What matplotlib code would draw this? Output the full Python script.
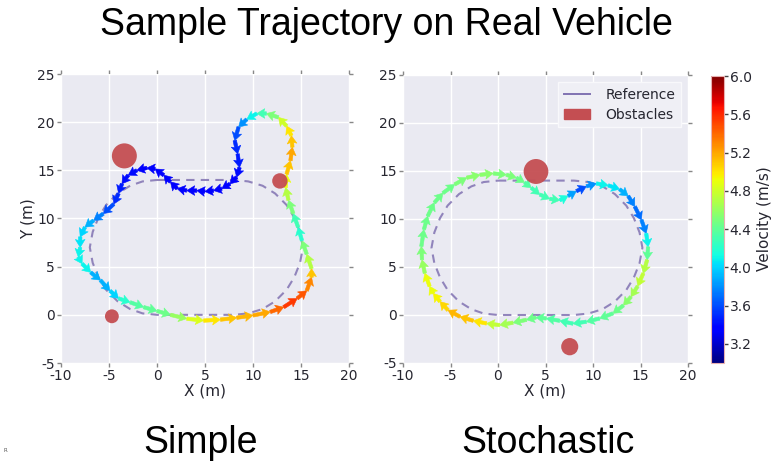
import numpy as np
import matplotlib
matplotlib.use("Agg")
import matplotlib.pyplot as plt
from matplotlib.patches import Circle, Patch
from matplotlib.lines import Line2D
from matplotlib.colors import Normalize

plt.rcParams['font.family'] = ['DejaVu Sans']
plt.rcParams['axes.unicode_minus'] = False

# ---------------- data ----------------
ref_x = [0, 2, 4, 6, 8, 9.5, 11, 12.3, 13.5, 14.3, 14.9, 15.2, 14.9, 14.3, 13.5, 12.3, 11, 9.5,
         8, 6, 4, 2, 0, -1.5, -2.8, -4.1, -5.3, -6.1, -6.7, -7, -6.7, -6.1, -5.3, -4.1, -2.8, -1.5, 0]
ref_y = [14, 14, 14, 14, 14, 13.85, 13.4, 12.6, 11.4, 10.1, 8.6, 7, 5.4, 3.9, 2.6, 1.4, 0.6, 0.15,
         0, 0, 0, 0, 0, 0.15, 0.6, 1.4, 2.6, 3.9, 5.4, 7, 8.6, 10.1, 11.4, 12.6, 13.4, 13.85, 14]

# Simple (counter-clockwise)
simple_x = [-8.0, -8.2, -7.8, -6.9, -5.9, -4.9, -4.0, -2.8, -1.4, 0.0, 1.4, 3.1, 4.85, 6.6, 8.3,
            10.0, 11.8, 13.2, 14.6, 15.6, 16.1, 16.1, 15.6, 15.1, 14.7, 14.2, 13.7, 13.4, 13.5,
            13.9, 14.1, 14.0, 13.5, 12.65, 11.4, 10.4, 9.35, 8.5, 8.1, 8.4, 8.6, 8.3, 7.6, 6.75,
            5.9, 5.0, 4.15, 3.1, 2.1, 1.4, 0.7, -0.2, -1.05, -2.1, -3.0, -3.65, -4.0, -4.5, -5.6,
            -6.6, -7.5, -8.0]
simple_y = [7.0, 6.0, 5.3, 4.4, 3.6, 2.5, 1.7, 1.3, 0.8, 0.4, 0.0, -0.4, -0.6, -0.5, -0.3,
            -0.06, 0.3, 0.8, 1.7, 2.5, 3.9, 4.8, 6.3, 7.7, 9.1, 10.5, 11.9, 13.2, 14.6,
            16.0, 17.4, 18.6, 19.6, 20.5, 20.9, 20.9, 20.3, 19.5, 18.1, 16.7, 15.3, 14.3, 13.6, 13.1,
            12.9, 12.8, 12.9, 12.9, 13.1, 13.8, 14.5, 15.15, 15.25, 15.0, 14.5, 13.6, 12.6, 11.5, 10.5,
            9.8, 9.1, 8.1]
simple_v = [4.1, 4.1, 4.1, 3.9, 3.9, 4.0, 4.2, 4.35, 4.4, 4.45, 4.6, 4.85, 5.0, 5.1, 5.15,
            5.2, 5.4, 5.55, 5.45, 5.3, 5.1, 4.7, 4.5, 4.2, 4.3, 4.5, 4.7, 4.9, 5.1,
            5.2, 5.1, 5.0, 4.8, 4.5, 4.3, 4.1, 3.8, 3.6, 3.5, 3.45, 3.4, 3.35, 3.35, 3.35,
            3.35, 3.35, 3.35, 3.35, 3.35, 3.35, 3.35, 3.35, 3.35, 3.4, 3.4, 3.45, 3.5, 3.6, 3.75,
            3.9, 4.0, 4.05]

# Stochastic (clockwise)
stoch_x = [-7.2, -7.7, -8.0, -8.07, -7.8, -7.4, -6.7, -5.8, -4.56, -3.3, -1.9, -0.5, 0.88, 1.93,
           2.8, 3.5, 4.4, 5.44, 6.5, 7.37, 8.25, 9.3, 10.35, 11.6, 12.8, 13.7, 14.4, 15.1, 15.6,
           15.8, 15.7, 15.3, 14.7, 14.0, 13.2, 12.1, 10.7, 9.3, 7.9, 6.5, 5.1, 4.0, 3.0, 1.58,
           0.18, -1.2, -2.6, -4.0, -5.26, -6.1, -6.8]
stoch_y = [3.0, 4.35, 5.75, 7.14, 8.9, 10.3, 11.7, 12.7, 13.6, 14.3, 14.6, 14.75, 14.6, 14.3,
           13.8, 13.25, 12.55, 12.1, 11.95, 12.4, 12.9, 13.4, 13.7, 13.5, 13.1, 12.4, 11.3, 9.9, 8.5,
           7.1, 5.75, 4.35, 3.0, 1.9, 1.0, 0.17, -0.36, -0.7, -0.9, -0.6, -0.36, -0.25, -0.5, -0.8,
           -1.05, -0.88, -0.6, -0.18, 0.5, 1.4, 2.25]
stoch_v = [4.9, 4.6, 4.5, 4.45, 4.45, 4.45, 4.45, 4.45, 4.5, 4.55, 4.55, 4.5, 4.5, 4.45,
           4.35, 4.3, 4.3, 4.3, 4.15, 3.85, 3.6, 3.8, 4.1, 4.05, 3.9, 3.75, 3.7, 3.75, 4.1,
           4.4, 4.7, 4.75, 4.65, 4.55, 4.45, 4.4, 4.35, 4.3, 4.3, 4.35, 4.4, 4.45, 4.5, 4.65,
           4.75, 5.0, 5.1, 5.15, 5.05, 4.95, 4.9]

# obstacles: (x, y, radius)
simple_obs_x = [-3.4, 12.8, -4.7]
simple_obs_y = [16.5, 13.9, -0.15]
simple_obs_r = [1.3, 0.8, 0.72]
stoch_obs_x = [4.0, 7.55]
stoch_obs_y = [14.95, -3.3]
stoch_obs_r = [1.3, 0.9]

xticks = [-10, -5, 0, 5, 10, 15, 20]
yticks = [-5, 0, 5, 10, 15, 20, 25]
cbar_ticks = [3.2, 3.6, 4.0, 4.4, 4.8, 5.2, 5.6, 6.0]
vmin, vmax = 3.0, 6.0

# ---------------- style ----------------
BG = '#EAEAF2'
TXT = '#262630'
REF_C = '#8172B2'
OBS_C = '#C44E52'
BIG_FONT = ['Liberation Sans', 'DejaVu Sans']

fig = plt.figure(figsize=(7.72, 4.61), dpi=100)
W, H = 772.0, 461.0

def rect(l, t, r, b):
    return [l / W, 1 - b / H, (r - l) / W, (b - t) / H]

ax1 = fig.add_axes(rect(61, 74, 349, 363))
ax2 = fig.add_axes(rect(403, 75, 688, 363))
cax = fig.add_axes(rect(711, 76, 724, 363))

norm = Normalize(vmin=vmin, vmax=vmax)
cmap = plt.get_cmap('jet')

def style(ax):
    ax.set_facecolor(BG)
    for s in ax.spines.values():
        s.set_visible(False)
    ax.set_xlim(-10, 20)
    ax.set_ylim(-5, 25)
    ax.set_xticks(xticks)
    ax.set_yticks(yticks)
    ax.grid(True, color='white', lw=1.0)
    ax.set_axisbelow(True)
    ax.tick_params(direction='out', length=3, width=1, color='#888888',
                   labelsize=10, labelcolor=TXT, top=True, right=True, pad=1.5)
    ax.set_xlabel('X (m)', fontsize=11, color=TXT, labelpad=0)

def draw(ax, px, py, pv, ox, oy, orad):
    ax.plot(ref_x, ref_y, ls=(0, (4, 3)), color=REF_C, lw=1.5, alpha=0.85, zorder=2)
    px = np.asarray(px); py = np.asarray(py)
    u = np.roll(px, -1) - px
    v = np.roll(py, -1) - py
    ax.quiver(px, py, u, v, np.asarray(pv), cmap=cmap, norm=norm, angles='xy',
              scale_units='xy', scale=1, units='xy', width=0.36, headwidth=2.8,
              headlength=2.3, headaxislength=2.0, pivot='tail', zorder=3,
              edgecolor='face', linewidth=0.4)
    for cx, cy, r in zip(ox, oy, orad):
        ax.add_patch(Circle((cx, cy), r, color=OBS_C, alpha=0.95, lw=0, zorder=4))

style(ax1)
style(ax2)
ax1.set_ylabel('Y (m)', fontsize=11, color=TXT, labelpad=1)
draw(ax1, simple_x, simple_y, simple_v, simple_obs_x, simple_obs_y, simple_obs_r)
draw(ax2, stoch_x, stoch_y, stoch_v, stoch_obs_x, stoch_obs_y, stoch_obs_r)

handles = [Line2D([], [], color=REF_C, lw=1.4), Patch(color=OBS_C)]
leg = ax2.legend(handles, ['Reference', 'Obstacles'], loc='upper right', fontsize=10,
                 frameon=True, facecolor='#EFEFF5', edgecolor='#F8F8FB', framealpha=1,
                 handlelength=1.9, handletextpad=1.1, labelspacing=0.45,
                 borderaxespad=0.5, fancybox=False)
for t in leg.get_texts():
    t.set_color(TXT)

sm = plt.cm.ScalarMappable(norm=norm, cmap=cmap)
cb = fig.colorbar(sm, cax=cax, ticks=cbar_ticks)
cb.outline.set_edgecolor('#E8B0B0')
cb.outline.set_linewidth(0.8)
cax.tick_params(length=3, width=1, color='#444444', labelsize=10, labelcolor=TXT, pad=1)
cax.set_yticklabels([f'{t:.1f}' for t in cbar_ticks])
fig.text(765 / W, 1 - 219 / H, 'Velocity (m/s)', rotation=90, ha='center', va='center',
         fontsize=11, color=TXT)

fig.text(386 / W, 1 - 25 / H, 'Sample Trajectory on Real Vehicle', ha='center', va='center',
         fontsize=27, color='black', family=BIG_FONT)
fig.text(201 / W, 1 - 443 / H, 'Simple', ha='center', va='center', fontsize=27, color='black',
         family=BIG_FONT)
fig.text(548 / W, 1 - 443 / H, 'Stochastic', ha='center', va='center', fontsize=27, color='black',
         family=BIG_FONT)
fig.text(5 / W, 1 - 450 / H, 'R', ha='center', va='center', fontsize=4, color='#555555')

fig.savefig('out.png', dpi=100)
